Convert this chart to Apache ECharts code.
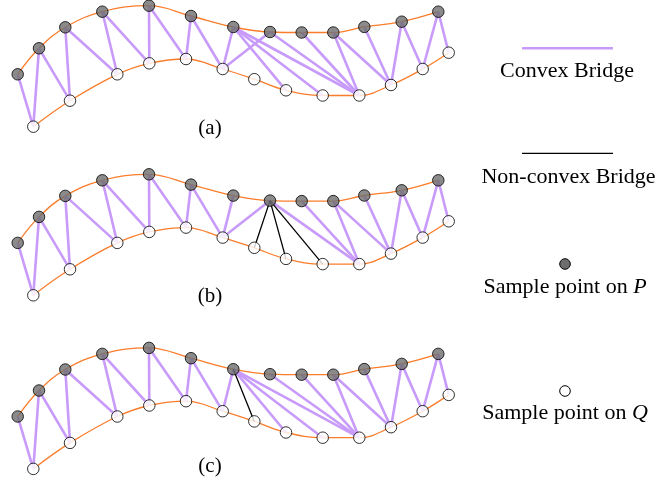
<!DOCTYPE html>
<html>
<head>
<meta charset="utf-8">
<script src="https://cdn.jsdelivr.net/npm/echarts@6/dist/echarts.min.js"></script>
<style>
html,body{margin:0;padding:0;background:#fff;}
#chart{width:657px;height:481px;}
</style>
</head>
<body>
<div id="chart"></div>
<script>
// Sample points on curve P (panel (a) frame)
const pPoints = [[17.7,74.3],[39,48.3],[65.3,27.3],[102.3,11.7],[149,5.7],[191,16],[233.3,27],[270,32],[301.7,32.5],[333.3,32.5],[364.3,26.9],[401.7,21.7],[438.3,11.7]];
// Sample points on curve Q (panel (a) frame)
const qPoints = [[33.3,126.7],[70,100.7],[117.3,74.3],[149.3,63.3],[186,59],[222.7,69],[254.3,79.2],[286,90.3],[322.7,95.5],[359.3,95.5],[391,85],[422.7,69],[448.7,52.7]];
// Vertical offsets of the three panels
const panelOffsets = [0, 168.6, 342.2];
const panelLabels = ['(a)', '(b)', '(c)'];
// Bridges shared by all panels: [P index, Q index]
const commonBridges = [[0,0],[1,0],[1,1],[2,1],[2,2],[3,2],[3,3],[4,3],[4,4],[5,4],[5,5],[6,5],[8,9],[9,9],[9,10],[10,10],[11,10],[11,11],[12,11],[12,12]];
// Panel-specific bridges
const convexA = [[6,7],[6,8],[6,9],[7,5],[7,9]];
const nonConvexA = [];
const convexB = [[7,5],[7,9]];
const nonConvexB = [[7,6],[7,7],[7,8]];
const convexC = [[6,7],[6,8],[6,9],[7,9]];
const nonConvexC = [[6,6]];
const legendTexts = ['Convex Bridge', 'Non-convex Bridge', 'Sample point on ', 'Sample point on '];

const ORANGE = '#fa7d2c';
const PURPLE = '#c89bfa';
const GRAY = '#6e6e6e';
const FONT = '"Liberation Serif", "Times New Roman", serif';

const convexSets = [convexA, convexB, convexC];
const nonConvexSets = [nonConvexA, nonConvexB, nonConvexC];

const shift = (pts, dy) => pts.map(p => [p[0], p[1] + dy]);
const bridgeData = (pairs, P, Q) => pairs.map(([i, j]) => ({ coords: [P[i], Q[j]] }));

const series = [];
panelOffsets.forEach((dy, k) => {
  const P = shift(pPoints, dy);
  const Q = shift(qPoints, dy);
  series.push({ type: 'line', data: P, smooth: 0.4, symbol: 'none', lineStyle: { color: ORANGE, width: 1.3 }, z: 1, silent: true });
  series.push({ type: 'line', data: Q, smooth: 0.4, symbol: 'none', lineStyle: { color: ORANGE, width: 1.3 }, z: 1, silent: true });
  series.push({ type: 'lines', coordinateSystem: 'cartesian2d', data: bridgeData(commonBridges.concat(convexSets[k]), P, Q), lineStyle: { color: PURPLE, width: 2.6, opacity: 1 }, z: 2, silent: true });
  series.push({ type: 'lines', coordinateSystem: 'cartesian2d', data: bridgeData(nonConvexSets[k], P, Q), lineStyle: { color: '#000', width: 1.3, opacity: 1 }, z: 3, silent: true });
  series.push({ type: 'scatter', data: P, symbol: 'circle', symbolSize: 11.5, itemStyle: { color: GRAY, borderColor: '#000', borderWidth: 1 }, z: 4, silent: true });
  series.push({ type: 'scatter', data: Q, symbol: 'circle', symbolSize: 11.5, itemStyle: { color: '#fff', borderColor: '#000', borderWidth: 1 }, z: 4, silent: true });
});

const graphics = [];
panelLabels.forEach((t, k) => {
  graphics.push({ type: 'text', x: 210, y: [128, 296.5, 466][k], style: { text: t, font: '21px ' + FONT, fill: '#000', align: 'center', verticalAlign: 'middle' } });
});
// Legend
graphics.push({ type: 'line', shape: { x1: 522, y1: 48.3, x2: 613, y2: 48.3 }, style: { stroke: PURPLE, lineWidth: 2.6 } });
graphics.push({ type: 'text', x: 567, y: 71, style: { text: legendTexts[0], font: '22px ' + FONT, fill: '#000', align: 'center', verticalAlign: 'middle' } });
graphics.push({ type: 'line', shape: { x1: 522, y1: 153.3, x2: 613, y2: 153.3 }, style: { stroke: '#000', lineWidth: 1.3 } });
graphics.push({ type: 'text', x: 568.5, y: 177, style: { text: legendTexts[1], font: '22px ' + FONT, fill: '#000', align: 'center', verticalAlign: 'middle' } });
graphics.push({ type: 'circle', shape: { cx: 565, cy: 264, r: 5.3 }, style: { fill: GRAY, stroke: '#000', lineWidth: 1 } });
graphics.push({ type: 'text', x: 565, y: 287, style: { text: '{n|' + legendTexts[2] + '}{i|P}', rich: { n: { font: '22px ' + FONT, fill: '#000' }, i: { font: 'italic 22px ' + FONT, fill: '#000' } }, align: 'center', verticalAlign: 'middle' } });
graphics.push({ type: 'circle', shape: { cx: 565, cy: 391, r: 5.3 }, style: { fill: '#fff', stroke: '#000', lineWidth: 1 } });
graphics.push({ type: 'text', x: 565, y: 413, style: { text: '{n|' + legendTexts[3] + '}{i|Q}', rich: { n: { font: '22px ' + FONT, fill: '#000' }, i: { font: 'italic 22px ' + FONT, fill: '#000' } }, align: 'center', verticalAlign: 'middle' } });

const chart = echarts.init(document.getElementById('chart'), null, { renderer: 'canvas' });
chart.setOption({
  animation: false,
  backgroundColor: '#fff',
  grid: { left: 0, right: 0, top: 0, bottom: 0 },
  xAxis: { type: 'value', min: 0, max: 657, show: false },
  yAxis: { type: 'value', min: 0, max: 481, inverse: true, show: false },
  series: series,
  graphic: graphics
});
</script>
</body>
</html>
